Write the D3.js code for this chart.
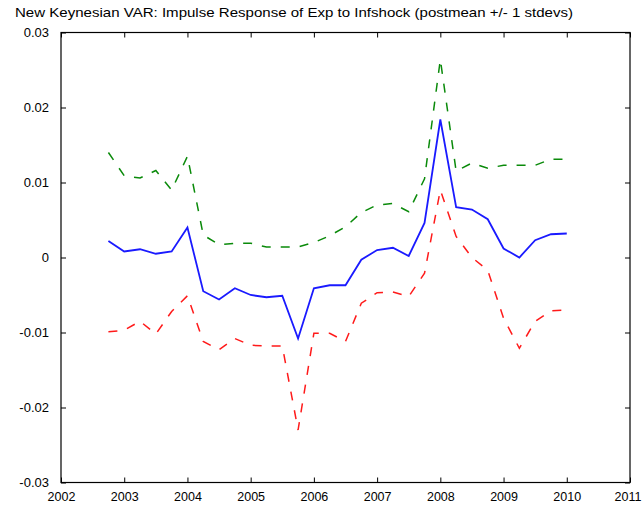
<!DOCTYPE html>
<html>
<head>
<meta charset="utf-8">
<script src="https://cdn.jsdelivr.net/npm/d3@7"></script>
<style>
  html, body { margin: 0; padding: 0; background: #ffffff; }
  svg { display: block; }
  text { font-family: "Liberation Sans", Arial, Helvetica, sans-serif; fill: #000; }
</style>
</head>
<body>
<svg id="chart" width="642" height="514"></svg>
<script>
// ---- data ----
const chartTitle = "New Keynesian VAR: Impulse Response of Exp to Infshock (postmean +/- 1 stdevs)";

const dates = [2002.75, 2003.0, 2003.25, 2003.5, 2003.75, 2004.0, 2004.25, 2004.5, 2004.75, 2005.0,
               2005.25, 2005.5, 2005.75, 2006.0, 2006.25, 2006.5, 2006.75, 2007.0, 2007.25, 2007.5,
               2007.75, 2008.0, 2008.25, 2008.5, 2008.75, 2009.0, 2009.25, 2009.5, 2009.75, 2010.0];

const postMean = [0.0022, 0.0008, 0.0011, 0.0005, 0.0008, 0.0040, -0.0045, -0.0056, -0.0041, -0.0050,
                  -0.0053, -0.0051, -0.0108, -0.0041, -0.0037, -0.0037, -0.0003, 0.0010, 0.0013, 0.0002,
                  0.0046, 0.0184, 0.0067, 0.0064, 0.0051, 0.0012, 0.0000, 0.0023, 0.0031, 0.0032];

const upperBand = [0.0140, 0.0109, 0.0106, 0.0116, 0.0090, 0.0135, 0.0030, 0.0017, 0.0019, 0.0019,
                   0.0014, 0.0014, 0.0014, 0.0020, 0.0029, 0.0041, 0.0060, 0.0070, 0.0072, 0.0061,
                   0.0105, 0.0264, 0.0115, 0.0126, 0.0119, 0.0123, 0.0123, 0.0123, 0.0131, 0.0131];

const lowerBand = [-0.0099, -0.0097, -0.0085, -0.0102, -0.0072, -0.0051, -0.0112, -0.0123, -0.0108, -0.0117,
                   -0.0118, -0.0118, -0.0230, -0.0101, -0.0101, -0.0112, -0.0061, -0.0047, -0.0046, -0.0052,
                   -0.0021, 0.0090, 0.0028, 0.0000, -0.0017, -0.0081, -0.0121, -0.0085, -0.0071, -0.0070];

const xTicks = [2002, 2003, 2004, 2005, 2006, 2007, 2008, 2009, 2010, 2011];
const xTickLabels = ["2002", "2003", "2004", "2005", "2006", "2007", "2008", "2009", "2010", "2011"];
const yTicks = [-0.03, -0.02, -0.01, 0, 0.01, 0.02, 0.03];
const yTickLabels = ["-0.03", "-0.02", "-0.01", "0", "0.01", "0.02", "0.03"];

// ---- layout ----
const plotLeft = 61, plotRight = 630, plotTop = 32.5, plotBottom = 482.5;
const svg = d3.select("#chart");

const x = d3.scaleLinear().domain([2002, 2011]).range([plotLeft, plotRight]);
const y = d3.scaleLinear().domain([-0.03, 0.03]).range([plotBottom, plotTop]);

// title
svg.append("text")
  .attr("x", 15).attr("y", 17)
  .attr("font-size", 13)
  .attr("textLength", 558)
  .attr("lengthAdjust", "spacingAndGlyphs")
  .text(chartTitle);

// axes (ticks inward on all four sides)
const tickLen = 5;
const xMap = new Map(xTicks.map((t, i) => [t, xTickLabels[i]]));
const yMap = new Map(yTicks.map((t, i) => [t, yTickLabels[i]]));

const gx = svg.append("g").attr("transform", `translate(0,${plotBottom})`)
  .call(d3.axisBottom(x).tickValues(xTicks).tickSize(-tickLen).tickPadding(10).tickFormat(d => xMap.get(d)));
const gxt = svg.append("g").attr("transform", `translate(0,${plotTop})`)
  .call(d3.axisTop(x).tickValues(xTicks).tickSize(-tickLen).tickFormat(""));
const gy = svg.append("g").attr("transform", `translate(${plotLeft},0)`)
  .call(d3.axisLeft(y).tickValues(yTicks).tickSize(-tickLen).tickPadding(12).tickFormat(d => yMap.get(d)));
const gyr = svg.append("g").attr("transform", `translate(${plotRight},0)`)
  .call(d3.axisRight(y).tickValues(yTicks).tickSize(-tickLen).tickFormat(""));

[gx, gxt, gy, gyr].forEach(g => {
  g.select(".domain").remove();
  g.selectAll(".tick line").attr("stroke", "#000").attr("stroke-width", 1);
  g.selectAll(".tick text").attr("font-size", 13).attr("fill", "#000")
    .attr("font-family", "'Liberation Sans', Arial, sans-serif");
});
gx.selectAll(".tick text").attr("font-size", 12.5);
// keep the last x label inside the window
gx.selectAll(".tick text").filter(d => d === 2011)
  .attr("text-anchor", "end").attr("x", 641 - plotRight);

// frame
svg.append("rect")
  .attr("x", plotLeft).attr("y", plotTop)
  .attr("width", plotRight - plotLeft).attr("height", plotBottom - plotTop)
  .attr("fill", "none").attr("stroke", "#000").attr("stroke-width", 1.2);

// lines
const lineGen = vals => d3.line().x((d, i) => x(dates[i])).y(d => y(d))(vals);

svg.append("path").attr("d", lineGen(upperBand))
  .attr("fill", "none").attr("stroke", "#0a8a0a").attr("stroke-width", 1.5)
  .attr("stroke-dasharray", "9,10");
svg.append("path").attr("d", lineGen(lowerBand))
  .attr("fill", "none").attr("stroke", "#ff1a1a").attr("stroke-width", 1.5)
  .attr("stroke-dasharray", "9,10");
svg.append("path").attr("d", lineGen(postMean))
  .attr("fill", "none").attr("stroke", "#1a1aff").attr("stroke-width", 1.8);
</script>
</body>
</html>
